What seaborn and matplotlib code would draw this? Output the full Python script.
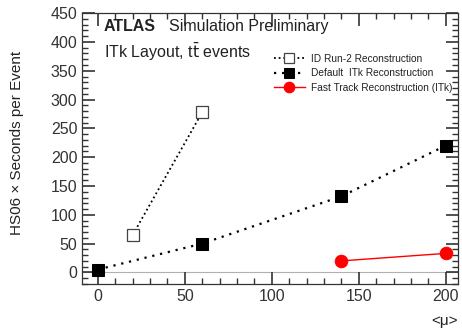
import numpy as np
import pandas as pd
import seaborn as sns
import matplotlib.pyplot as plt
from matplotlib.ticker import MultipleLocator

# values
mu_run2 = [20, 60]
t_run2 = [65, 278]
mu_itk = [0, 60, 140, 200]
t_itk = [5, 50, 132, 220]
mu_fast = [140, 200]
t_fast = [20, 33]

plt.rcParams['font.family'] = ['Liberation Sans', 'DejaVu Sans']
plt.rcParams.update({
    'xtick.direction': 'in', 'ytick.direction': 'in',
    'xtick.top': True, 'ytick.right': True,
    'xtick.major.size': 9, 'ytick.major.size': 9,
    'xtick.minor.size': 4.5, 'ytick.minor.size': 4.5,
    'xtick.major.width': 1.2, 'ytick.major.width': 1.2,
    'xtick.minor.width': 1.0, 'ytick.minor.width': 1.0,
    'xtick.labelsize': 11.5, 'ytick.labelsize': 11.5,
    'xtick.color': '#333333', 'ytick.color': '#333333',
})

fig, ax = plt.subplots(figsize=(4.62, 3.29), dpi=100)
fig.subplots_adjust(left=0.178, right=0.991, bottom=0.137, top=0.960)

ax.axhline(0, color='#b0b0b0', lw=0.8, zorder=1)

sns.lineplot(x=mu_run2, y=t_run2, ax=ax, color='k', linestyle=(0, (1, 1.6)), lw=1.3,
             marker='s', markersize=9, markerfacecolor='white', markeredgecolor='#444444',
             markeredgewidth=0.9, label='ID Run-2 Reconstruction')
sns.lineplot(x=mu_itk, y=t_itk, ax=ax, color='k', linestyle=(0, (1, 2.6)), lw=1.6,
             marker='s', markersize=9, markerfacecolor='black', markeredgecolor='black',
             label='Default  ITk Reconstruction')
sns.lineplot(x=mu_fast, y=t_fast, ax=ax, color='red', linestyle='-', lw=1.0,
             marker='o', markersize=9, markerfacecolor='red', markeredgecolor='red',
             label='Fast Track Reconstruction (ITk)')

ax.set_xlim(-9, 207)
ax.set_ylim(-20, 450)
ax.xaxis.set_major_locator(MultipleLocator(50))
ax.xaxis.set_minor_locator(MultipleLocator(10))
ax.yaxis.set_major_locator(MultipleLocator(50))
ax.yaxis.set_minor_locator(MultipleLocator(10))
for s in ax.spines.values():
    s.set_linewidth(0.9)
    s.set_color('#333333')

ax.set_ylabel('HS06 × Seconds per Event', fontsize=11, color='#222222')
ax.yaxis.set_label_coords(-0.155, 0.52)
ax.set_xlabel('<μ>', fontsize=11, color='#222222', ha='right', va='top')
ax.xaxis.set_label_coords(1.0, -0.11)

ax.text(0.058, 0.935, 'ATLAS', transform=ax.transAxes, fontsize=11.5, fontweight='bold', color='#222222')
ax.text(0.23, 0.935, 'Simulation Preliminary', transform=ax.transAxes, fontsize=11.5, color='#222222')
ax.text(0.058, 0.835, r'ITk Layout, t$\bar{\rm t}$ events', transform=ax.transAxes, fontsize=11.5, color='#222222')

leg = ax.legend(loc='upper left', bbox_to_anchor=(0.5, 0.865), frameon=False, fontsize=7.3,
                handlelength=3.0, handletextpad=0.6, labelspacing=0.45, borderaxespad=0,
                markerscale=0.85)
for t in leg.get_texts():
    t.set_color('#222222')

fig.savefig('out.png', dpi=100)
